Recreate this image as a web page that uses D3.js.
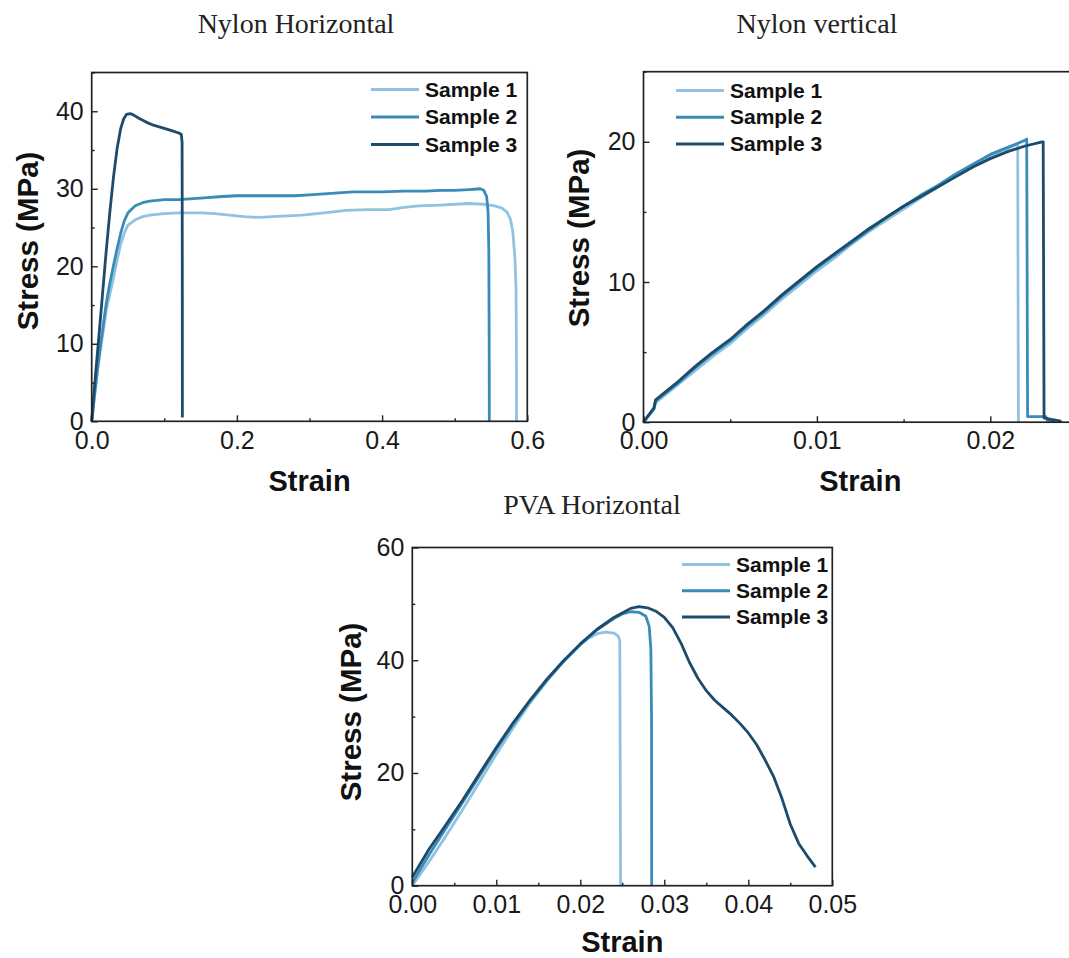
<!DOCTYPE html>
<html>
<head>
<meta charset="utf-8">
<script src="https://cdn.jsdelivr.net/npm/d3@7"></script>
<style>
  body { margin: 0; background: #fff; }
  svg { display: block; }
  .tick text { font-family: "Liberation Sans", Arial, sans-serif; fill: #1a1a1a; }
  .title { font-family: "Liberation Serif", "Times New Roman", serif; fill: #222; }
  .axisLabel, .legendText { font-family: "Liberation Sans", Arial, sans-serif; font-weight: bold; fill: #111; }
</style>
</head>
<body>
<div id="chart"></div>
<script>
// Sample names and colours
var sampleNames = ["Sample 1", "Sample 2", "Sample 3"];
var sampleColors = ["#8fc3e1", "#3b8bb8", "#1d4b6b"];

// Nylon Horizontal: [strain, stress MPa]
var nhSample1 = [[0,0],[0.004,3.3],[0.008,6.5],[0.0133,10],[0.02,14.3],[0.025,16.4],[0.03,18.5],[0.035,20.8],[0.04,22.9],[0.045,24.3],[0.05,25.3],[0.06,26.0],[0.07,26.4],[0.08,26.6],[0.1,26.8],[0.12,26.9],[0.15,26.9],[0.17,26.8],[0.19,26.6],[0.21,26.4],[0.23,26.3],[0.25,26.4],[0.27,26.5],[0.29,26.6],[0.31,26.8],[0.33,27.0],[0.35,27.2],[0.38,27.3],[0.41,27.3],[0.43,27.6],[0.45,27.8],[0.48,27.9],[0.5,28.0],[0.52,28.1],[0.54,28.0],[0.555,27.8],[0.565,27.5],[0.572,27.0],[0.577,26.0],[0.58,24.5],[0.583,21],[0.5845,17],[0.585,10],[0.5852,0]];
var nhSample2 = [[0,0],[0.004,3.5],[0.008,6.8],[0.0124,10],[0.02,15.2],[0.025,17.8],[0.0298,20],[0.035,22.3],[0.04,24.3],[0.045,25.9],[0.05,26.9],[0.06,27.8],[0.07,28.2],[0.08,28.4],[0.1,28.6],[0.12,28.6],[0.15,28.8],[0.18,29.0],[0.2,29.1],[0.25,29.1],[0.28,29.1],[0.3,29.2],[0.33,29.4],[0.36,29.6],[0.4,29.6],[0.43,29.7],[0.46,29.7],[0.48,29.8],[0.5,29.8],[0.52,29.9],[0.535,30.0],[0.54,29.8],[0.544,29.0],[0.546,27],[0.547,22],[0.5475,10],[0.5477,0]];
var nhSample3 = [[0,0],[0.003,3.5],[0.006,6.8],[0.009,10],[0.015,16.5],[0.02,22],[0.025,27],[0.03,31.5],[0.035,35.2],[0.04,37.8],[0.044,39.0],[0.048,39.6],[0.053,39.7],[0.058,39.5],[0.065,39.1],[0.075,38.6],[0.085,38.2],[0.1,37.8],[0.11,37.5],[0.12,37.2],[0.1235,37.0],[0.1245,36],[0.1248,20],[0.1249,0.5]];
var nhXTicks = [0, 0.2, 0.4, 0.6];
var nhXMinor = [0.1, 0.3, 0.5];
var nhYTicks = [0, 10, 20, 30, 40];
var nhYMinor = [5, 15, 25, 35, 45];

// Nylon vertical
var nvSample1 = [[0,0],[0.0006,0.9],[0.0007,1.4],[0.001,1.7],[0.002,2.7],[0.003,3.7],[0.004,4.7],[0.005,5.6],[0.006,6.7],[0.007,7.7],[0.008,8.8],[0.009,9.8],[0.010,10.8],[0.011,11.7],[0.012,12.7],[0.013,13.6],[0.014,14.4],[0.015,15.2],[0.016,16.0],[0.017,16.8],[0.018,17.6],[0.019,18.3],[0.020,19.0],[0.021,19.5],[0.0215,19.8],[0.02158,19.8],[0.02162,0]];
var nvSample2 = [[0,0],[0.0006,1.0],[0.0007,1.5],[0.001,1.8],[0.002,2.8],[0.003,3.9],[0.004,4.9],[0.005,5.8],[0.006,6.9],[0.007,7.9],[0.008,9.0],[0.009,10.0],[0.010,11.0],[0.011,11.9],[0.012,12.8],[0.013,13.7],[0.014,14.6],[0.015,15.4],[0.016,16.2],[0.017,16.9],[0.018,17.7],[0.019,18.4],[0.020,19.1],[0.021,19.6],[0.022,20.1],[0.0221,20.2],[0.02215,0.4],[0.0226,0.4],[0.0232,0.4],[0.0233,0.1],[0.0236,0.1],[0.0237,0]];
var nvSample3 = [[0,0],[0.0006,1.0],[0.0007,1.6],[0.001,1.9],[0.002,2.9],[0.003,4.0],[0.004,5.0],[0.005,5.9],[0.006,7.0],[0.007,8.0],[0.008,9.1],[0.009,10.1],[0.010,11.1],[0.011,12.0],[0.012,12.9],[0.013,13.8],[0.014,14.6],[0.015,15.4],[0.016,16.1],[0.017,16.8],[0.018,17.5],[0.019,18.2],[0.020,18.8],[0.021,19.3],[0.022,19.7],[0.023,20.0],[0.02305,20.0],[0.0231,0.3],[0.0235,0.2],[0.024,0.1],[0.0241,0]];
var nvXTicks = [0, 0.01, 0.02];
var nvXMinor = [0.005, 0.015, 0.025];
var nvYTicks = [0, 10, 20];
var nvYMinor = [5, 15, 25];

// PVA Horizontal
var pvSample1 = [[0,0],[0.002,4.3],[0.004,8.8],[0.006,13.5],[0.008,18.4],[0.010,23.3],[0.012,28.0],[0.014,32.4],[0.016,36.3],[0.018,39.7],[0.020,42.7],[0.021,43.9],[0.022,44.7],[0.023,45.0],[0.024,44.8],[0.0245,44.3],[0.0247,43.5],[0.0248,0]];
var pvSample2 = [[0,0.5],[0.002,5.5],[0.004,10.2],[0.006,14.8],[0.008,19.5],[0.010,24.2],[0.012,28.6],[0.014,32.7],[0.016,36.4],[0.018,39.8],[0.020,42.8],[0.022,45.4],[0.024,47.4],[0.025,48.2],[0.026,48.6],[0.027,48.5],[0.0278,47.8],[0.0282,46],[0.0284,42],[0.02848,30],[0.0285,0]];
var pvSample3 = [[0,1.5],[0.002,6.5],[0.004,10.8],[0.006,15.2],[0.008,19.9],[0.010,24.5],[0.012,28.9],[0.014,32.9],[0.016,36.6],[0.018,39.9],[0.020,42.9],[0.022,45.5],[0.024,47.6],[0.026,49.2],[0.027,49.5],[0.028,49.3],[0.029,48.7],[0.030,47.6],[0.031,45.8],[0.032,43.0],[0.033,39.6],[0.034,36.8],[0.035,34.6],[0.036,32.9],[0.037,31.6],[0.038,30.3],[0.039,28.8],[0.040,27.1],[0.041,25.0],[0.042,22.3],[0.043,19.4],[0.044,15.5],[0.045,10.9],[0.046,7.5],[0.047,5.3],[0.048,3.3]];
var pvXTicks = [0, 0.01, 0.02, 0.03, 0.04, 0.05];
var pvXMinor = [0.005, 0.015, 0.025, 0.035, 0.045];
var pvYTicks = [0, 20, 40, 60];
var pvYMinor = [10, 30, 50];

var svgWidth = 1069;
var svgHeight = 958;

var svg = d3
  .select("#chart")
  .append("svg")
  .attr("width", svgWidth)
  .attr("height", svgHeight);

//
// Draw one stress-strain panel
//
function drawPanel(p) {
  var x = d3.scaleLinear().domain(p.xDomain).range([p.left, p.right]);
  var y = d3.scaleLinear().domain(p.yDomain).range([p.bottom, p.top]);
  var g = svg.append("g");

  // curves
  var line = d3.line().x((d) => x(d[0])).y((d) => y(d[1]));
  p.series.forEach((s, i) => {
    g.append("path")
      .datum(s)
      .attr("fill", "none")
      .attr("stroke", sampleColors[i])
      .attr("stroke-width", 2.8)
      .attr("stroke-linejoin", "round")
      .attr("d", line);
  });

  // frame
  g.append("rect")
    .attr("x", p.left)
    .attr("y", p.top)
    .attr("width", p.right - p.left)
    .attr("height", p.bottom - p.top)
    .attr("fill", "none")
    .attr("stroke", "#222")
    .attr("stroke-width", 1.7);

  // major ticks, pointing inward
  var xAxis = d3.axisBottom(x).tickValues(p.xTicks).tickFormat(d3.format(p.xFmt))
    .tickSizeInner(-6).tickSizeOuter(0).tickPadding(9.5);
  var xg = g.append("g").attr("transform", `translate(0, ${p.bottom})`).call(xAxis);
  var yAxis = d3.axisLeft(y).tickValues(p.yTicks).tickFormat(d3.format("d"))
    .tickSizeInner(-6).tickSizeOuter(0).tickPadding(8);
  var yg = g.append("g").attr("transform", `translate(${p.left}, 0)`).call(yAxis);

  // minor ticks
  var xm = g.append("g").attr("transform", `translate(0, ${p.bottom})`)
    .call(d3.axisBottom(x).tickValues(p.xMinor).tickFormat("").tickSizeInner(-3).tickSizeOuter(0));
  var ym = g.append("g").attr("transform", `translate(${p.left}, 0)`)
    .call(d3.axisLeft(y).tickValues(p.yMinor).tickFormat("").tickSizeInner(-3).tickSizeOuter(0));

  [xg, yg, xm, ym].forEach((a) => {
    a.select(".domain").remove();
    a.selectAll(".tick line").attr("stroke", "#222").attr("stroke-width", 1.4);
    a.selectAll(".tick text").style("font-size", "25px");
  });

  // titles and axis labels
  svg.append("text")
    .attr("class", "title")
    .attr("x", p.titleX)
    .attr("y", p.titleY)
    .attr("text-anchor", "middle")
    .style("font-size", "28px")
    .text(p.title);

  svg.append("text")
    .attr("class", "axisLabel")
    .attr("x", (p.left + p.right) / 2)
    .attr("y", p.xLabelY)
    .attr("text-anchor", "middle")
    .style("font-size", "29px")
    .text("Strain");

  svg.append("text")
    .attr("class", "axisLabel")
    .attr("transform", `translate(${p.yLabelX}, ${p.yLabelY}) rotate(-90)`)
    .attr("text-anchor", "middle")
    .style("font-size", "29.5px")
    .text("Stress (MPa)");

  // legend
  sampleNames.forEach((name, i) => {
    var ly = p.legendY + i * p.legendStep;
    svg.append("line")
      .attr("x1", p.legendX)
      .attr("x2", p.legendX + 48)
      .attr("y1", ly)
      .attr("y2", ly)
      .attr("stroke", sampleColors[i])
      .attr("stroke-width", 3);
    svg.append("text")
      .attr("class", "legendText")
      .attr("x", p.legendX + 54)
      .attr("y", ly + 7)
      .style("font-size", "21px")
      .text(name);
  });
}

drawPanel({
  title: "Nylon Horizontal", titleX: 296, titleY: 33,
  left: 91.7, right: 527.3, top: 72.5, bottom: 421.3,
  xDomain: [0, 0.6], yDomain: [0, 45],
  xTicks: nhXTicks, xMinor: nhXMinor, yTicks: nhYTicks, yMinor: nhYMinor, xFmt: ".1f",
  series: [nhSample1, nhSample2, nhSample3],
  xLabelY: 491, yLabelX: 38, yLabelY: 241,
  legendX: 371, legendY: 89.5, legendStep: 27.5
});

drawPanel({
  title: "Nylon vertical", titleX: 817, titleY: 33,
  left: 643.5, right: 1077, top: 71.7, bottom: 422.2,
  xDomain: [0, 0.025], yDomain: [0, 25],
  xTicks: nvXTicks, xMinor: nvXMinor, yTicks: nvYTicks, yMinor: nvYMinor, xFmt: ".2f",
  series: [nvSample1, nvSample2, nvSample3],
  xLabelY: 491, yLabelX: 589, yLabelY: 238,
  legendX: 676, legendY: 90.5, legendStep: 26.8
});

drawPanel({
  title: "PVA Horizontal", titleX: 592, titleY: 514,
  left: 412.3, right: 832.3, top: 547.5, bottom: 885.7,
  xDomain: [0, 0.05], yDomain: [0, 60],
  xTicks: pvXTicks, xMinor: pvXMinor, yTicks: pvYTicks, yMinor: pvYMinor, xFmt: ".2f",
  series: [pvSample1, pvSample2, pvSample3],
  xLabelY: 952, yLabelX: 361, yLabelY: 712,
  legendX: 682, legendY: 564.5, legendStep: 26.2
});
</script>
</body>
</html>
